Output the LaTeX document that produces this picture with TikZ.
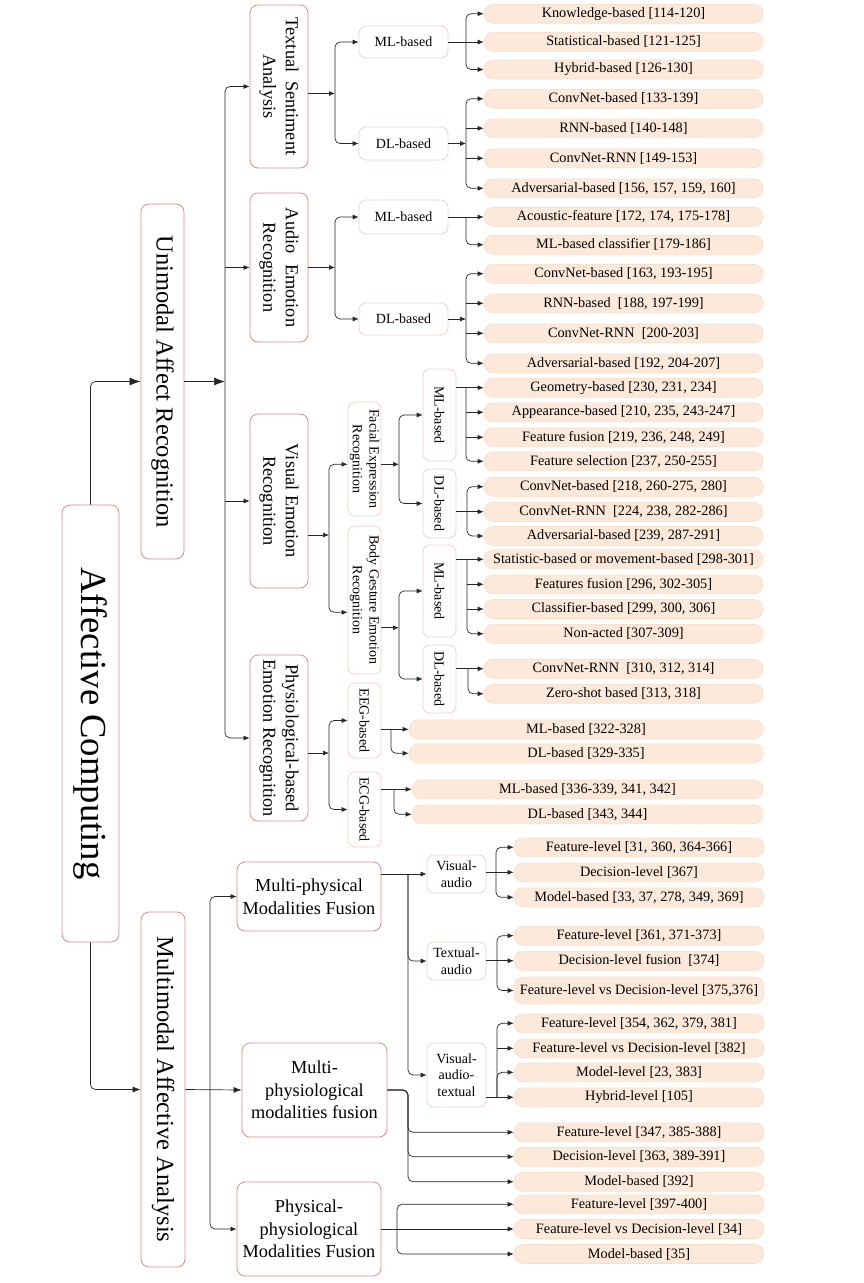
\documentclass[tikz,border=0pt]{standalone}
\usepackage{fontspec}
\setmainfont{Liberation Serif}
\usetikzlibrary{arrows.meta,calc}
\definecolor{mainred}{RGB}{217,140,132}
\definecolor{subpink}{RGB}{242,204,199}
\definecolor{leaffill}{RGB}{252,233,218}
\definecolor{leafdraw}{RGB}{250,222,202}
\newcommand\fLeaf{\fontsize{14.3}{17}\selectfont}
\newcommand\fSmall{\fontsize{14}{16.8}\selectfont}
\newcommand\fMain{\fontsize{18.3}{22.5}\selectfont}
\newcommand\fTop{\fontsize{24.5}{29}\selectfont}
\newcommand\fRoot{\fontsize{36.7}{44}\selectfont}
\begin{document}
\begin{tikzpicture}[x=1pt,y=-1pt,
  mainbox/.style={draw=mainred, line width=0.8pt, rounded corners=8pt, inner sep=0pt, font=\fMain, align=center},
  subbox/.style={draw=subpink, line width=0.7pt, rounded corners=7pt, inner sep=0pt, font=\fSmall, align=center},
  leaf/.style={draw=leafdraw, fill=leaffill, line width=0.6pt, rounded corners=9pt, inner sep=0pt, minimum height=19pt, font=\fLeaf},
  stdleaf/.style={leaf, minimum width=279pt},
  mmleaf/.style={leaf, minimum width=250pt},
  rtext/.style={rotate=-90, align=center, inner sep=0pt},
  wire/.style={line width=0.7pt, black!85},
  conn/.style={wire, -{Latex[length=6pt,width=5pt]}},
  bigconn/.style={wire, -{Latex[length=11pt,width=8pt]}},
  midconn/.style={wire, -{Latex[length=8pt,width=6pt]}},
  rc/.style={rounded corners=5pt},
]
\useasboundingbox (0,0) rectangle (864,1283);

% ---------- level 1 ----------
\node[mainbox, minimum width=57pt, minimum height=437pt] (root) at (90.5,723.5) {};
\node[rtext, font=\fRoot] (rootT) at (root.center) {Affective Computing};
\node[mainbox, minimum width=43pt, minimum height=355pt] (uni) at (162.5,381.5) {};
\node[rtext, font=\fTop] (uniT) at (uni.center) {Unimodal Affect Recognition};
\node[mainbox, minimum width=44pt, minimum height=355pt] (multi) at (163,1089.5) {};
\node[rtext, font=\fTop] (multiT) at (multi.center) {Multimodal Affective Analysis};

% ---------- unimodal level 2 ----------
\node[mainbox, minimum width=58pt, minimum height=163pt] (tsa) at (279,86.5) {};
\node[rtext, font=\fMain] (tsaT) at (tsa.center) {Textual\hspace{0.47em}Sentiment\\Analysis};
\node[mainbox, minimum width=58pt, minimum height=149pt] (aer) at (279,267.5) {};
\node[rtext, font=\fMain] (aerT) at (aer.center) {Audio\hspace{0.58em}Emotion\\Recognition};
\node[mainbox, minimum width=58pt, minimum height=174pt] (ver) at (279,501) {};
\node[rtext, font=\fMain] (verT) at (ver.center) {Visual Emotion\\Recognition};
\node[mainbox, minimum width=58pt, minimum height=166pt] (pbr) at (279,738) {};
\node[rtext, font=\fMain] (pbrT) at (pbr.center) {Physiological-based\\Emotion Recognition};

% ---------- unimodal level 3 ----------
\node[subbox, minimum width=89pt, minimum height=32pt] (tml) at (403.5,42) {ML-based};
\node[subbox, minimum width=89pt, minimum height=33pt] (tdl) at (403.5,143.5) {DL-based};
\node[subbox, minimum width=89pt, minimum height=34pt] (aml) at (403.5,217) {ML-based};
\node[subbox, minimum width=89pt, minimum height=32pt] (adl) at (403.5,319) {DL-based};

\node[subbox, minimum width=33pt, minimum height=114pt] (fer) at (364.5,459) {};
\node[rtext, font=\fSmall] (ferT) at (fer.center) {Facial Expression\\Recognition};
\node[subbox, minimum width=33pt, minimum height=148pt] (bge) at (364.5,600) {};
\node[rtext, font=\fSmall] (bgeT) at (bge.center) {Body Gesture Emotion\\Recognition};
\node[subbox, minimum width=33pt, minimum height=75pt] (eeg) at (364.5,720.5) {};
\node[rtext, font=\fSmall] (eegT) at (eeg.center) {EEG-based};
\node[subbox, minimum width=33pt, minimum height=75pt] (ecg) at (364.5,809.5) {};
\node[rtext, font=\fSmall] (ecgT) at (ecg.center) {ECG-based};

\node[subbox, minimum width=33pt, minimum height=92pt] (fml) at (439.5,415) {};
\node[rtext, font=\fSmall] (fmlT) at (fml.center) {ML-based};
\node[subbox, minimum width=33pt, minimum height=69pt] (fdl) at (439.5,503.5) {};
\node[rtext, font=\fSmall] (fdlT) at (fdl.center) {DL-based};
\node[subbox, minimum width=33pt, minimum height=92pt] (bml) at (439.5,591) {};
\node[rtext, font=\fSmall] (bmlT) at (bml.center) {ML-based};
\node[subbox, minimum width=33pt, minimum height=68pt] (bdl) at (439.5,679) {};
\node[rtext, font=\fSmall] (bdlT) at (bdl.center) {DL-based};

% ---------- unimodal leaves ----------
\node[stdleaf] (tm1) at (623.5,13.7) {Knowledge-based [114-120]};
\node[stdleaf] (tm2) at (623.5,41.7) {Statistical-based [121-125]};
\node[stdleaf] (tm3) at (623.5,69.5) {Hybrid-based [126-130]};
\node[stdleaf] (td1) at (623.5,98.7) {ConvNet-based [133-139]};
\node[stdleaf] (td2) at (623.5,128.3) {RNN-based [140-148]};
\node[stdleaf] (td3) at (623.5,158.3) {ConvNet-RNN [149-153]};
\node[stdleaf] (td4) at (623.5,188.3) {Adversarial-based [156, 157, 159, 160]};
\node[stdleaf] (am1) at (623.5,216.7) {Acoustic-feature [172, 174, 175-178]};
\node[stdleaf] (am2) at (623.5,244.7) {ML-based classifier [179-186]};
\node[stdleaf] (ad1) at (623.5,273.7) {ConvNet-based [163, 193-195]};
\node[stdleaf] (ad2) at (623.5,303.3) {RNN-based~~[188, 197-199]};
\node[stdleaf] (ad3) at (623.5,333.3) {ConvNet-RNN~~[200-203]};
\node[stdleaf] (ad4) at (623.5,363.3) {Adversarial-based [192, 204-207]};
\node[stdleaf] (fm1) at (623.5,387.7) {Geometry-based [230, 231, 234]};
\node[stdleaf] (fm2) at (623.5,412.3) {Appearance-based [210, 235, 243-247]};
\node[stdleaf] (fm3) at (623.5,437.3) {Feature fusion [219, 236, 248, 249]};
\node[stdleaf] (fm4) at (623.5,461.3) {Feature selection [237, 250-255]};
\node[stdleaf] (fd1) at (623.5,486.7) {ConvNet-based [218, 260-275, 280]};
\node[stdleaf] (fd2) at (623.5,511.7) {ConvNet-RNN~~[224, 238, 282-286]};
\node[stdleaf] (fd3) at (623.5,536) {Adversarial-based [239, 287-291]};
\node[stdleaf] (bm1) at (623.5,559.3) {Statistic-based or movement-based [298-301]};
\node[stdleaf] (bm2) at (623.5,584.3) {Features fusion [296, 302-305]};
\node[stdleaf] (bm3) at (623.5,609) {Classifier-based [299, 300, 306]};
\node[stdleaf] (bm4) at (623.5,633.7) {Non-acted [307-309]};
\node[stdleaf] (bd1) at (623.5,668.7) {ConvNet-RNN~~[310, 312, 314]};
\node[stdleaf] (bd2) at (623.5,693.7) {Zero-shot based [313, 318]};
\node[leaf, minimum width=354pt] (em1) at (586,729.3) {ML-based [322-328]};
\node[leaf, minimum width=354pt] (ed1) at (586,753.3) {DL-based [329-335]};
\node[leaf, minimum width=351pt] (cm1) at (587.5,789.3) {ML-based [336-339, 341, 342]};
\node[leaf, minimum width=351pt] (cd1) at (587.5,814.3) {DL-based [343, 344]};

% ---------- multimodal level 2/3 ----------
\node[mainbox, minimum width=144pt, minimum height=69pt] (mpf) at (309,896.5) {Multi-physical\\Modalities Fusion};
\node[mainbox, minimum width=145pt, minimum height=94pt] (mph) at (314.5,1090) {Multi-\\physiological\\modalities fusion};
\node[mainbox, minimum width=144pt, minimum height=94pt] (ppf) at (309,1229) {Physical-\\physiological\\Modalities Fusion};
\node[subbox, minimum width=59pt, minimum height=38pt] (va) at (456.5,874) {Visual-\\audio};
\node[subbox, minimum width=59pt, minimum height=38pt] (ta) at (456.5,961) {Textual-\\audio};
\node[subbox, minimum width=59pt, minimum height=64pt] (vat) at (456.5,1075) {Visual-\\audio-\\textual};

% ---------- multimodal leaves ----------
\node[mmleaf] (va1) at (639,847.3) {Feature-level [31, 360, 364-366]};
\node[mmleaf] (va2) at (639,872.3) {Decision-level [367]};
\node[mmleaf] (va3) at (639,897.3) {Model-based [33, 37, 278, 349, 369]};
\node[mmleaf] (ta1) at (639,935.7) {Feature-level [361, 371-373]};
\node[mmleaf] (ta2) at (639,960.7) {Decision-level fusion~~[374]};
\node[mmleaf, minimum height=27pt] (ta3) at (639,990.5) {Feature-level vs Decision-level [375,376]};
\node[mmleaf] (vt1) at (639,1023.3) {Feature-level [354, 362, 379, 381]};
\node[mmleaf] (vt2) at (639,1048.3) {Feature-level vs Decision-level [382]};
\node[mmleaf] (vt3) at (639,1072.3) {Model-level [23, 383]};
\node[mmleaf] (vt4) at (639,1097.3) {Hybrid-level [105]};
\node[mmleaf] (mp1) at (639,1132.3) {Feature-level [347, 385-388]};
\node[mmleaf] (mp2) at (639,1156.7) {Decision-level [363, 389-391]};
\node[mmleaf] (mp3) at (639,1181.7) {Model-based [392]};
\node[mmleaf] (pp1) at (639,1204.3) {Feature-level [397-400]};
\node[mmleaf] (pp2) at (639,1229) {Feature-level vs Decision-level [34]};
\node[mmleaf] (pp3) at (639,1254) {Model-based [35]};

% ---------- connectors: top ----------
\draw[bigconn, rc] (root.north) |- (uni.west);
\draw[midconn, rc] (root.south) |- (multi.west);
\coordinate (ub) at (225,381.5);
\draw[bigconn] (uni.east) -- (ub);
\draw[conn, rc] (ub) |- (tsa.west);
\draw[conn, rc] (ub) |- (pbr.west);
\draw[conn] (ub |- aer.west) -- (aer.west);
\draw[conn] (ub |- ver.west) -- (ver.west);

% textual
\coordinate (tb) at (335,93.5);
\draw[conn] (tsa.east |- tb) -- (tb);
\draw[conn, rc] (tb) |- (tml.west);
\draw[conn, rc] (tb) |- (tdl.west);
\coordinate (tmb) at (466,42);
\draw[conn] (tml.east) -- (tml.east -| tm2.west);
\draw[conn, rc] (tmb) |- (tm1.west);
\draw[conn, rc] (tmb) |- (tm3.west);
\coordinate (tdb) at (466,143.5);
\draw[conn] (tdl.east) -- (tdb);
\draw[conn, rc] (tdb) |- (td1.west);
\draw[conn, rc] (tdb) |- (td4.west);
\draw[conn] (tdb |- td2.west) -- (td2.west);
\draw[conn] (tdb |- td3.west) -- (td3.west);

% audio
\coordinate (ab) at (335,267.5);
\draw[conn] (aer.east) -- (ab);
\draw[conn, rc] (ab) |- (aml.west);
\draw[conn, rc] (ab) |- (adl.west);
\coordinate (amb) at (466,217);
\draw[conn] (aml.east) -- (aml.east -| am1.west);
\draw[conn, rc] (amb) |- (am2.west);
\coordinate (adb) at (466,319);
\draw[conn] (adl.east) -- (adb);
\draw[conn, rc] (adb) |- (ad1.west);
\draw[conn, rc] (adb) |- (ad4.west);
\draw[conn] (adb |- ad2.west) -- (ad2.west);
\draw[conn] (adb |- ad3.west) -- (ad3.west);

% visual
\coordinate (vb) at (329,535);
\draw[conn] (ver.east |- vb) -- (vb);
\draw[conn, rc] (vb) |- ($(fer.west)+(0,5.3)$);
\draw[conn, rc] (vb) |- ($(bge.west)+(0,12.3)$);
\coordinate (fb) at (399,464.3);
\draw[conn] (fer.east |- fb) -- (fb);
\draw[conn, rc] (fb) |- (fml.west);
\draw[conn, rc] (fb) |- (fdl.west);
\coordinate (fmb) at (466,387.7);
\draw[conn] (fml.east |- fm1.west) -- (fm1.west);
\draw[conn] (fmb |- fm2.west) -- (fm2.west);
\draw[conn] (fmb |- fm3.west) -- (fm3.west);
\draw[conn, rc] (fmb) |- (fm4.west);
\coordinate (fdb) at (467,511.7);
\draw[conn] (fdl.east |- fd2.west) -- (fd2.west);
\draw[conn, rc] (fdb) |- (fd1.west);
\draw[conn, rc] (fdb) |- (fd3.west);
\coordinate (bb) at (399,627.7);
\draw[conn] (bge.east |- bb) -- (bb);
\draw[conn, rc] (bb) |- (bml.west);
\draw[conn, rc] (bb) |- (bdl.west);
\coordinate (bmb) at (467,559.3);
\draw[conn] (bml.east |- bm1.west) -- (bm1.west);
\draw[conn] (bmb |- bm2.west) -- (bm2.west);
\draw[conn] (bmb |- bm3.west) -- (bm3.west);
\draw[conn, rc] (bmb) |- (bm4.west);
\coordinate (bdb) at (468,668.7);
\draw[conn] (bdl.east |- bd1.west) -- (bd1.west);
\draw[conn, rc] (bdb) |- (bd2.west);

% physiological
\coordinate (pb) at (329,753);
\draw[conn] (pbr.east |- pb) -- (pb);
\draw[conn, rc] (pb) |- (eeg.west);
\draw[conn, rc] (pb) |- (ecg.west);
\coordinate (eb) at (391,729.3);
\draw[conn] (eeg.east |- em1.west) -- (em1.west);
\draw[conn, rc] (eb) |- (ed1.west);
\coordinate (cb) at (394,789.3);
\draw[conn] (ecg.east |- cm1.west) -- (cm1.west);
\draw[conn, rc] (cb) |- (cd1.west);

% ---------- connectors: multimodal ----------
\coordinate (mb) at (210,1089.5);
\draw[midconn] (multi.east) -- (mph.west);
\draw[conn, rc] (mb) |- (mpf.west);
\draw[conn, rc] (mb) |- (ppf.west);
\coordinate (mpb) at (408,874);
\draw[conn] (mpf.east |- va.west) -- (va.west);
\draw[conn, rc] (mpb) |- (ta.west);
\draw[conn, rc] (mpb) |- (vat.west);
\coordinate (vab) at (496,872.3);
\draw[conn] (va.east |- va2.west) -- (va2.west);
\draw[conn, rc] (vab) |- (va1.west);
\draw[conn, rc] (vab) |- (va3.west);
\coordinate (tab) at (497,960.7);
\draw[conn] (ta.east |- ta2.west) -- (ta2.west);
\draw[conn, rc] (tab) |- (ta1.west);
\draw[conn, rc] (tab) |- (ta3.west);
\coordinate (vtb) at (497,1097.3);
\draw[conn] (vat.east |- vt4.west) -- (vt4.west);
\draw[conn, rc] (vtb) |- (vt1.west);
\draw[conn] (vtb |- vt2.west) -- (vt2.west);
\draw[conn, rc] (vtb) |- (vt3.west);
\coordinate (mphb) at (408,1090);
\draw[conn, rc] (mph.east) -- (mphb) |- (mp1.west);
\draw[conn, rc] (mph.east) -- (mphb) |- (mp2.west);
\draw[conn, rc] (mph.east) -- (mphb) |- (mp3.west);
\coordinate (ppb) at (397,1229);
\draw[conn] (ppf.east) -- (pp2.west);
\draw[conn, rc] (ppb) |- (pp1.west);
\draw[conn, rc] (ppb) |- (pp3.west);
\end{tikzpicture}
\end{document}
